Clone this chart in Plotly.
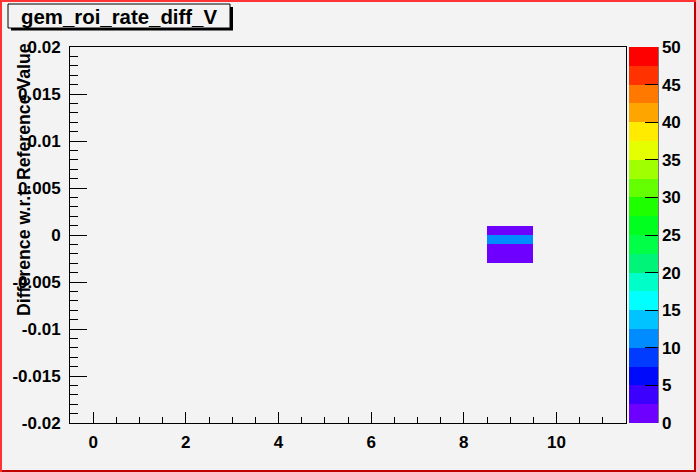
import numpy as np
import plotly.graph_objects as go

W, H = 696, 472

# ---- data ----
title = "gem_roi_rate_diff_V"
y_title = "Difference w.r.t. Reference Value"
x_min, x_max, x_nbins = -0.5, 11.5, 12
y_min, y_max, y_nbins = -0.02, 0.02, 40
cell_x = [9, 9, 9, 9]
cell_y_low = [0.0, -0.001, -0.002, -0.003]
cell_counts = [1, 11, 1, 1]
z_min, z_max = 0, 50
x_tickvals = [0, 2, 4, 6, 8, 10]
x_ticktext = ["0", "2", "4", "6", "8", "10"]
y_tickvals = [-0.02, -0.015, -0.01, -0.005, 0, 0.005, 0.01, 0.015, 0.02]
y_ticktext = ["-0.02", "-0.015", "-0.01", "-0.005", "0", "0.005", "0.01", "0.015", "0.02"]
z_tickvals = [0, 5, 10, 15, 20, 25, 30, 35, 40, 45, 50]
palette = [
    "rgb(110,0,255)", "rgb(60,0,255)", "rgb(0,10,250)", "rgb(0,60,255)",
    "rgb(0,140,255)", "rgb(0,195,255)", "rgb(0,255,255)", "rgb(0,255,200)",
    "rgb(0,245,120)", "rgb(0,255,70)", "rgb(0,255,30)", "rgb(30,255,0)",
    "rgb(100,255,0)", "rgb(160,255,0)", "rgb(230,255,0)", "rgb(255,235,0)",
    "rgb(255,165,0)", "rgb(255,120,0)", "rgb(255,50,0)", "rgb(255,0,0)",
]

# ---- build histogram grid ----
xw = (x_max - x_min) / x_nbins
yw = (y_max - y_min) / y_nbins
x_edges = x_min + xw * np.arange(x_nbins + 1)
y_edges = y_min + yw * np.arange(y_nbins + 1)
z = np.full((y_nbins, x_nbins), np.nan)
for cx, cy, c in zip(cell_x, cell_y_low, cell_counts):
    ix = int(round((cx - x_min) / xw - 0.5))
    iy = int(round((cy - y_min) / yw))
    z[iy, ix] = c

n = len(palette)
colorscale = []
for i, c in enumerate(palette):
    colorscale.append([i / n, c])
    colorscale.append([(i + 1) / n, c])

# ---- layout geometry (pixels) ----
fl, fr, ft, fb = 70, 626, 47, 423
def px(x): return x / W
def py(y): return 1 - y / H

bg = "#f3f3f3"
tfont = dict(family="Liberation Sans, Arial, sans-serif", size=17, color="black", weight="bold")

fig = go.Figure()
fig.add_trace(go.Heatmap(
    x=x_edges, y=y_edges, z=z, zmin=z_min, zmax=z_max,
    colorscale=colorscale, hoverongaps=False,
    colorbar=dict(
        x=px(629), xanchor="left", xref="paper",
        y=py(ft), yanchor="top", yref="paper",
        len=(fb - ft) / H, lenmode="fraction",
        thickness=29, thicknessmode="pixels",
        xpad=0, ypad=0, outlinewidth=0,
        ticks="inside", ticklen=13, tickcolor="black", tickwidth=1,
        tickvals=z_tickvals, tickfont=tfont,
    ),
))

fig.update_layout(
    width=W, height=H, autosize=False,
    margin=dict(l=0, r=0, t=0, b=0, pad=0, autoexpand=False),
    paper_bgcolor=bg, plot_bgcolor=bg,
    showlegend=False,
    xaxis=dict(
        domain=[px(fl), px(fr)], range=[x_min, x_max], automargin=False,
        showgrid=False, zeroline=False,
        showline=True, linecolor="black", linewidth=1, mirror=True,
        ticks="inside", ticklen=11, tickcolor="black",
        tickvals=x_tickvals, ticktext=x_ticktext, tickfont=tfont,
        minor=dict(dtick=0.5, tick0=0, ticks="inside", ticklen=6, tickcolor="black"),
        ticklabelstandoff=4,
    ),
    yaxis=dict(
        domain=[py(fb), py(ft)], range=[y_min, y_max], automargin=False,
        showgrid=False, zeroline=False,
        showline=True, linecolor="black", linewidth=1, mirror=True,
        ticks="inside", ticklen=17, tickcolor="black",
        tickvals=y_tickvals, ticktext=y_ticktext, tickfont=tfont,
        minor=dict(dtick=0.001, tick0=0, ticks="inside", ticklen=8, tickcolor="black"),
        ticklabelstandoff=5,
    ),
)

shapes = []
# colorbar axis line
shapes.append(dict(type="line", xref="paper", yref="paper",
                   x0=px(658), x1=px(658), y0=py(fb), y1=py(ft),
                   line=dict(color="black", width=1)))
# title box shadow + box
shapes.append(dict(type="rect", xref="paper", yref="paper",
                   x0=px(11), x1=px(233), y0=py(30.5), y1=py(7),
                   fillcolor="black", line=dict(width=0), layer="above"))
shapes.append(dict(type="rect", xref="paper", yref="paper",
                   x0=px(8), x1=px(230), y0=py(28), y1=py(4),
                   fillcolor=bg, line=dict(color="black", width=1), layer="above"))
# canvas borders
shapes.append(dict(type="rect", xref="paper", yref="paper",
                   x0=0, x1=1, y0=py(2), y1=1, fillcolor="#ff3333", line=dict(width=0)))
shapes.append(dict(type="rect", xref="paper", yref="paper",
                   x0=0, x1=px(2), y0=0, y1=1, fillcolor="#ff3333", line=dict(width=0)))
shapes.append(dict(type="rect", xref="paper", yref="paper",
                   x0=px(694), x1=1, y0=0, y1=py(2), fillcolor="#c00000", line=dict(width=0)))
shapes.append(dict(type="rect", xref="paper", yref="paper",
                   x0=px(2), x1=1, y0=0, y1=py(470), fillcolor="#c00000", line=dict(width=0)))
fig.update_layout(shapes=shapes)

fig.add_annotation(text=title, xref="paper", yref="paper",
                   x=px(119), y=py(17), xanchor="center", yanchor="middle",
                   showarrow=False,
                   font=dict(family="Liberation Sans, Arial, sans-serif", size=20.4,
                             color="black", weight="bold"))
fig.add_annotation(text=y_title, xref="paper", yref="paper",
                   x=px(24), y=py(180), xanchor="center", yanchor="middle",
                   textangle=-90, showarrow=False,
                   font=dict(family="Liberation Sans, Arial, sans-serif", size=17.7,
                             color="black", weight="bold"))

post = (
    "var css='margin:0;padding:0;';"
    "document.documentElement.style.cssText=css;"
    "document.body.style.cssText=css;"
)
fig.write_html("out.html", config={"staticPlot": True, "displayModeBar": False},
               post_script=post)
